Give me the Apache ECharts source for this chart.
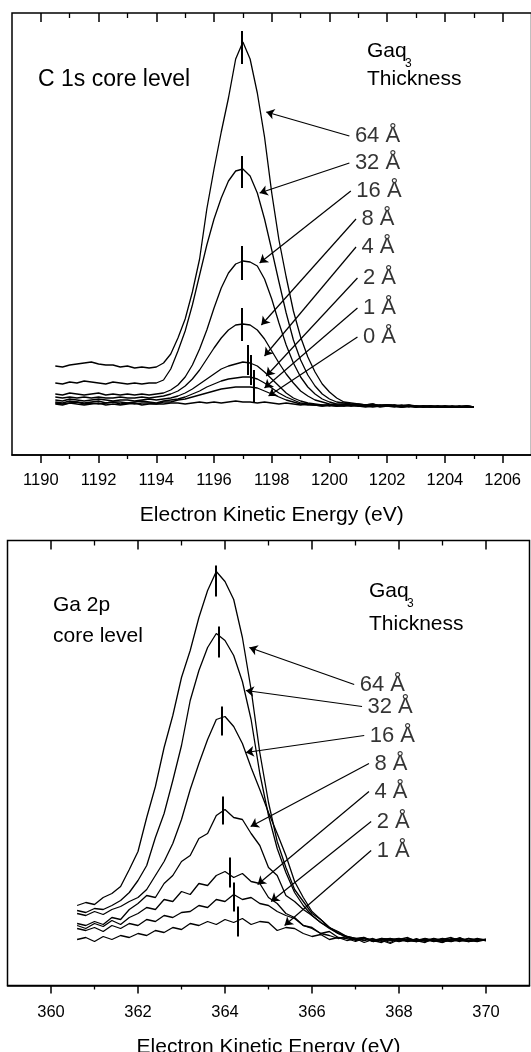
<!DOCTYPE html>
<html>
<head>
<meta charset="utf-8">
<script src="https://cdn.jsdelivr.net/npm/echarts@6/dist/echarts.min.js"></script>
<style>
html, body { margin: 0; padding: 0; background: #fff; }
#main { width: 531px; height: 1052px; }
</style>
</head>
<body>
<div id="main"></div>
<script>
// ===== C 1s core level (upper panel) =====
var energyC = [1190.5, 1190.75, 1191, 1191.25, 1191.5, 1191.75, 1192, 1192.25, 1192.5, 1192.75, 1193, 1193.25, 1193.5, 1193.75, 1194,
    1194.25, 1194.5, 1194.75, 1195, 1195.25, 1195.5, 1195.75, 1196, 1196.25, 1196.5, 1196.75, 1197, 1197.25, 1197.5, 1197.75, 1198,
    1198.25, 1198.5, 1198.75, 1199, 1199.25, 1199.5, 1199.75, 1200, 1200.25, 1200.5,
    1200.75, 1201, 1201.25, 1201.5, 1201.75, 1202, 1202.25, 1202.5, 1202.75, 1203, 1203.25, 1203.5, 1203.75, 1204, 1204.25, 1204.5, 1204.75, 1205];

var c1s64 = [89, 88, 90, 91, 92, 93, 91, 90, 90, 88, 89, 87, 88, 87, 88,
    92, 101, 117, 136, 163, 196, 246, 286, 323, 357, 396, 413, 396, 362, 318, 262, 215, 178, 144, 118, 98, 83, 71, 63, 57, 53,
    52, 51, 50, 51, 49, 50, 50, 49, 50, 49, 48, 49, 48, 49, 48, 48, 49, 48];
var c1s32 = [72, 71, 73, 72, 74, 73, 72, 71, 73, 72, 71, 72, 71, 72, 72,
    75, 86, 104, 124, 150, 180, 210, 236, 257, 274, 284, 286, 279, 262, 236, 205, 173, 142, 115, 95, 80, 69, 61, 56, 53, 52,
    51, 50, 50, 51, 49, 50, 49, 50, 49, 48, 49, 49, 48, 49, 48, 48, 49, 48];
var c1s16 = [61, 60, 62, 61, 60, 61, 62, 60, 61, 60, 61, 60, 61, 60, 61,
    62, 65, 70, 78, 90, 106, 125, 147, 167, 182, 191, 194, 193, 189, 176, 156, 132, 110, 92, 78, 68, 61, 56, 53, 51, 51,
    50, 51, 50, 49, 50, 50, 49, 49, 50, 48, 49, 48, 49, 48, 48, 49, 48, 48];
var c1s8 = [58, 57, 58, 57, 58, 57, 58, 57, 57, 58, 57, 57, 58, 57, 58,
    59, 61, 64, 69, 76, 85, 96, 107, 117, 125, 130, 131, 130, 125, 116, 104, 92, 81, 72, 64, 59, 55, 53, 51, 50, 50,
    50, 49, 50, 50, 49, 50, 49, 48, 49, 49, 48, 49, 48, 48, 49, 48, 48, 48];
var c1s4 = [55, 54, 56, 55, 54, 55, 56, 55, 54, 55, 55, 54, 55, 56, 55,
    56, 57, 59, 62, 66, 71, 76, 81, 86, 89, 91, 93, 92, 89, 83, 76, 69, 62, 57, 54, 52, 51, 50, 50, 49, 50,
    49, 50, 49, 50, 49, 49, 50, 48, 49, 48, 49, 48, 49, 48, 48, 48, 49, 48];
var c1s2 = [53, 52, 54, 53, 52, 53, 54, 52, 53, 53, 52, 53, 54, 53, 52,
    54, 55, 56, 58, 61, 64, 68, 71, 74, 76, 77, 78, 78, 76, 72, 67, 62, 58, 55, 52, 51, 50, 50, 49, 50, 49,
    50, 49, 49, 50, 48, 49, 49, 48, 49, 48, 49, 48, 48, 49, 48, 48, 48, 48];
var c1s1 = [52, 51, 52, 53, 51, 52, 51, 52, 53, 51, 52, 51, 52, 52, 51,
    53, 53, 55, 56, 58, 60, 62, 64, 66, 67, 68, 68, 68, 67, 64, 61, 58, 55, 53, 51, 50, 50, 49, 50, 49, 49,
    50, 49, 48, 49, 50, 49, 48, 49, 48, 49, 48, 48, 49, 48, 48, 49, 48, 48];
var c1s0 = [51, 50, 52, 51, 50, 51, 52, 50, 51, 50, 51, 52, 50, 51, 51,
    51, 52, 52, 51, 52, 53, 52, 53, 52, 53, 54, 53, 53, 52, 53, 52, 51, 52, 51, 50, 51, 50, 49, 50, 49, 50,
    49, 50, 49, 48, 49, 50, 49, 48, 49, 49, 48, 49, 48, 48, 49, 48, 49, 48];

var thicknessC = ['64 Å', '32 Å', '16 Å', '8 Å', '4 Å', '2 Å', '1 Å', '0 Å'];
var curvesC = [c1s64, c1s32, c1s16, c1s8, c1s4, c1s2, c1s1, c1s0];
// 峰位标记（竖线）
var peakEC = [1196.96, 1196.96, 1196.97, 1196.96, 1197.18, 1197.26, 1197.36, null];
var peakLoC = [391, 267, 175, 114, 80, 70, 52, null];
var peakHiC = [424, 299, 209, 147, 110, 100, 85, null];
// 箭头：从标签指向曲线
var arrowFromEC = [1200.69, 1200.69, 1200.74, 1200.92, 1200.92, 1200.97, 1200.97, 1200.97];
var arrowFromIC = [319, 292, 264, 236, 208, 177, 147, 118];
var arrowToEC = [1197.81, 1197.58, 1197.58, 1197.64, 1197.75, 1197.81, 1197.75, 1197.89];
var arrowToIC = [343, 262, 192, 130, 99, 79, 67, 59];
var ticksMajorC = [1190, 1192, 1194, 1196, 1198, 1200, 1202, 1204, 1206];
var ticksMinorC = [1191, 1193, 1195, 1197, 1199, 1201, 1203, 1205];

// ===== Ga 2p core level (lower panel) =====
var energyGa = [360.6, 360.8, 361.0, 361.2, 361.4, 361.6, 361.8, 362.0,
    362.2, 362.4, 362.6, 362.8, 363.0, 363.2, 363.4, 363.6,
    363.8, 364.0, 364.2, 364.4, 364.6, 364.8, 365.0, 365.2,
    365.4, 365.6, 365.8, 366.0, 366.2, 366.4, 366.6, 366.8,
    367.0, 367.2, 367.4, 367.6, 367.8, 368.0, 368.2, 368.4,
    368.6, 368.8, 369.0, 369.2, 369.4, 369.6, 369.8, 370.0];

var ga64 = [80, 83, 81, 88, 92, 99, 116, 134,
    168, 199, 238, 270, 308, 335, 368, 395,
    414, 404, 386, 348, 296, 233, 183, 144,
    118, 96, 84, 72, 66, 58, 54, 49,
    47, 48, 45, 47, 46, 44, 47, 45,
    47, 44, 46, 48, 45, 47, 45, 46];
var ga32 = [75, 73, 77, 76, 80, 85, 93, 105,
    120, 148, 172, 205, 240, 285, 315, 338,
    352, 345, 330, 304, 266, 212, 170, 137,
    113, 93, 80, 70, 63, 57, 52, 48,
    46, 47, 44, 46, 47, 45, 46, 44,
    46, 45, 47, 44, 46, 45, 47, 45];
var ga16 = [72, 70, 74, 71, 76, 79, 84, 88,
    96, 110, 124, 142, 166, 196, 222, 246,
    266, 269, 259, 242, 218, 196, 173, 152,
    130, 104, 88, 74, 66, 58, 53, 49,
    47, 45, 47, 44, 46, 47, 44, 46,
    45, 47, 44, 46, 47, 44, 46, 45];
var ga8 = [62, 60, 64, 61, 68, 66, 76, 82,
    90, 88, 102, 110, 124, 130, 147, 152,
    170, 176, 168, 166, 152, 140, 118, 110,
    90, 84, 76, 70, 63, 58, 52, 49,
    46, 48, 44, 47, 45, 46, 48, 44,
    46, 44, 47, 45, 48, 44, 46, 46];
var ga4 = [60, 57, 62, 59, 65, 61, 68, 72,
    78, 76, 86, 84, 94, 91, 102, 100,
    110, 114, 108, 112, 104, 102, 88, 82,
    72, 68, 60, 58, 52, 54, 48, 47,
    44, 47, 45, 43, 47, 44, 46, 45,
    43, 47, 45, 44, 47, 45, 44, 46];
var ga2 = [57, 55, 58, 54, 60, 57, 62, 60,
    66, 64, 70, 68, 73, 74, 80, 78,
    86, 84, 91, 86, 88, 82, 80, 74,
    70, 67, 60, 57, 52, 50, 47, 49,
    45, 47, 44, 46, 43, 47, 45, 44,
    47, 45, 43, 46, 44, 47, 45, 46];
var ga1 = [46, 48, 44, 49, 46, 50, 48, 52,
    50, 55, 53, 58, 56, 62, 60, 64,
    61, 66, 63, 67, 61, 64, 63, 55,
    58, 57, 52, 49, 51, 46, 48, 45,
    47, 43, 46, 45, 42, 46, 44, 47,
    44, 46, 43, 47, 45, 44, 46, 45];

var thicknessGa = ['64 Å', '32 Å', '16 Å', '8 Å', '4 Å', '2 Å', '1 Å'];
var curvesGa = [ga64, ga32, ga16, ga8, ga4, ga2, ga1];
var peakEGa = [363.79, 363.85, 363.93, 363.95, 364.1, 364.2, 364.3];
var peakLoGa = [389, 328, 250, 161, 98, 74, 49];
var peakHiGa = [420, 359, 279, 189, 128, 103, 79];
var arrowFromEGa = [366.97, 367.15, 367.2, 367.31, 367.31, 367.36, 367.36];
var arrowFromIGa = [301, 279, 250, 222, 194, 164, 135];
var arrowToEGa = [364.56, 364.48, 364.48, 364.59, 364.75, 365.06, 365.37];
var arrowToIGa = [338, 295, 233, 159, 101, 84, 60];
var ticksMajorGa = [360, 362, 364, 366, 368, 370];
var ticksMinorGa = [361, 363, 365, 367, 369];

var fontFam = '"Liberation Sans", Arial, sans-serif';
var ink = '#000';

// 每个面板四条x轴：底部主/次刻度，顶部主/次刻度（朝内）
function makeXAxes(gridIndex, min, max, major, minor, labelMargin, nameGap) {
    var base = { gridIndex: gridIndex, type: 'value', min: min, max: max, splitLine: { show: false } };
    return [
        Object.assign({}, base, {
            position: 'bottom',
            axisLine: { show: true, onZero: false, lineStyle: { color: ink, width: 1.5 } },
            axisTick: { show: true, inside: false, length: 8, customValues: major, lineStyle: { color: ink, width: 1.5 } },
            axisLabel: {
                show: true, customValues: major, color: ink, fontSize: 16.5, fontFamily: fontFam, margin: labelMargin,
                formatter: function (v) { return String(v); }
            },
            name: 'Electron Kinetic Energy (eV)',
            nameLocation: 'middle',
            nameGap: nameGap,
            nameTextStyle: { color: ink, fontSize: 21, fontFamily: fontFam }
        }),
        Object.assign({}, base, {
            position: 'bottom',
            axisLine: { show: false, onZero: false },
            axisTick: { show: true, inside: false, length: 4, customValues: minor, lineStyle: { color: ink, width: 1.3 } },
            axisLabel: { show: false }
        }),
        Object.assign({}, base, {
            position: 'top',
            axisLine: { show: false, onZero: false },
            axisTick: { show: true, inside: true, length: 9, customValues: major, lineStyle: { color: ink, width: 1.5 } },
            axisLabel: { show: false }
        }),
        Object.assign({}, base, {
            position: 'top',
            axisLine: { show: false, onZero: false },
            axisTick: { show: true, inside: true, length: 5, customValues: minor, lineStyle: { color: ink, width: 1.3 } },
            axisLabel: { show: false }
        })
    ];
}

function makeYAxis(gridIndex, max) {
    return {
        gridIndex: gridIndex, type: 'value', min: 0, max: max,
        axisLine: { show: false }, axisTick: { show: false }, axisLabel: { show: false }, splitLine: { show: false }
    };
}

function curveSeries(name, xs, ys, xi, yi, pe, plo, phi) {
    var s = {
        name: name,
        type: 'line',
        xAxisIndex: xi,
        yAxisIndex: yi,
        symbol: 'none',
        silent: true,
        lineStyle: { color: ink, width: 1.3 },
        data: xs.map(function (x, i) { return [x, ys[i]]; })
    };
    if (pe != null) {
        s.markLine = {
            silent: true,
            symbol: 'none',
            label: { show: false },
            lineStyle: { color: ink, width: 2, type: 'solid' },
            data: [[{ coord: [pe, plo] }, { coord: [pe, phi] }]]
        };
    }
    return s;
}

function arrowSeries(labels, fe, fi, te, ti, xi, yi) {
    return {
        type: 'scatter',
        xAxisIndex: xi,
        yAxisIndex: yi,
        symbolSize: 1,
        silent: true,
        itemStyle: { color: 'rgba(0,0,0,0)' },
        data: labels.map(function (t, i) { return { name: t, value: [fe[i], fi[i]] }; }),
        label: { show: true, position: 'right', distance: 5, formatter: '{b}', color: ink, fontSize: 22, fontFamily: fontFam },
        markLine: {
            silent: true,
            symbol: ['none', 'arrow'],
            symbolSize: 8,
            label: { show: false },
            lineStyle: { color: ink, width: 1.2, type: 'solid' },
            data: labels.map(function (t, i) { return [{ coord: [fe[i], fi[i]] }, { coord: [te[i], ti[i]] }]; })
        }
    };
}

var series = [];
curvesC.forEach(function (ys, k) {
    series.push(curveSeries(thicknessC[k], energyC, ys, 0, 0, peakEC[k], peakLoC[k], peakHiC[k]));
});
series.push(arrowSeries(thicknessC, arrowFromEC, arrowFromIC, arrowToEC, arrowToIC, 0, 0));
curvesGa.forEach(function (ys, k) {
    series.push(curveSeries(thicknessGa[k], energyGa, ys, 4, 1, peakEGa[k], peakLoGa[k], peakHiGa[k]));
});
series.push(arrowSeries(thicknessGa, arrowFromEGa, arrowFromIGa, arrowToEGa, arrowToIGa, 4, 1));

function txt(text, x, y, size) {
    return {
        type: 'text', x: x, y: y, silent: true,
        style: { text: text, fill: ink, font: size + 'px ' + fontFam, verticalAlign: 'middle' }
    };
}

var myChart = echarts.init(document.getElementById('main'));

var option = {
    animation: false,
    backgroundColor: '#fff',
    grid: [
        { left: 12, top: 13, width: 519.5, height: 442, show: true, borderColor: ink, borderWidth: 1.5, outerBoundsMode: 'none' },
        { left: 7.5, top: 540.5, width: 522, height: 445, show: true, borderColor: ink, borderWidth: 1.5, outerBoundsMode: 'none' }
    ],
    xAxis: makeXAxes(0, 1189, 1207, ticksMajorC, ticksMinorC, 17, 50)
        .concat(makeXAxes(1, 359, 371, ticksMajorGa, ticksMinorGa, 18, 51)),
    yAxis: [makeYAxis(0, 442), makeYAxis(1, 445)],
    graphic: [
        txt('C 1s core level', 38, 80, 23),
        txt('Gaq', 367, 51, 21),
        txt('3', 405, 64, 12),
        txt('Thickness', 367, 79, 21),
        txt('Ga 2p', 53, 605, 21),
        txt('core level', 53, 636, 21),
        txt('Gaq', 369, 591, 21),
        txt('3', 407, 604, 12),
        txt('Thickness', 369, 624, 21)
    ],
    series: series
};

myChart.setOption(option);
</script>
</body>
</html>
